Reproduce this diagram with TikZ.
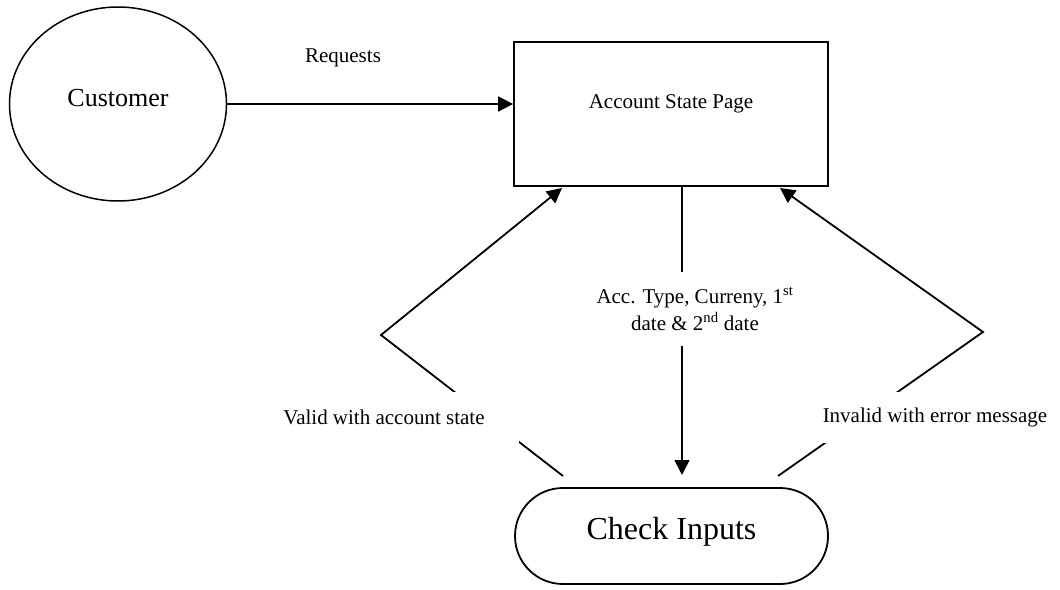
\documentclass[tikz,border=0pt]{standalone}
\usepackage{fontspec}
\setmainfont{Liberation Serif}
\usetikzlibrary{shapes.geometric,arrows.meta}
\begin{document}
\begin{tikzpicture}[x=1pt,y=-1pt,
  line width=1.8pt,
  arr/.style={-{Triangle[length=15pt,width=15pt]}},
  shapebox/.style={draw, line width=1.8pt, inner sep=0pt},
  lbl/.style={font=\fontsize{21}{27}\selectfont},
  gaplbl/.style={lbl, fill=white, inner ysep=0pt, minimum height=51pt}
]
\useasboundingbox (0,0) rectangle (1060,589);

% shapes
\node[shapebox, ellipse, line width=1.5pt, minimum width=217pt, minimum height=194pt,
  label={[font=\fontsize{26}{31}\selectfont, yshift=6pt]center:Customer}] (cust) at (118,104) {};
\node[shapebox, rectangle, minimum width=314pt, minimum height=144pt,
  label={[lbl, yshift=10pt]center:Account State Page}] (page) at (671,114) {};
\node[shapebox, rectangle, rounded corners=47.9pt, minimum width=313pt, minimum height=96pt,
  label={[font=\fontsize{32}{38}\selectfont, yshift=4pt]center:Check Inputs}] (check) at (671.5,536) {};

% free connector ends
\coordinate (vin) at (682,475);
\coordinate (lstart) at (563,476);
\coordinate (lcorner) at (381,335);
\coordinate (ltip) at (562,188);
\coordinate (rstart) at (778,476);
\coordinate (rcorner) at (983,332);
\coordinate (rtip) at (780,188);

% connectors
\draw[arr] (cust.east) -- (cust.east -| page.west);
\draw[arr] (page.south -| vin) -- (vin);
\draw[arr] (lstart) -- (lcorner) -- (ltip);
\draw[arr] (rstart) -- (rcorner) -- (rtip);

% labels
\node[lbl] (req) at (343,58) {Requests};
\node[lbl, fill=white, align=center, inner xsep=2pt, inner ysep=0pt, minimum height=74pt] (acc) at (695,309)
  {Acc. Type, Curreny, 1\textsuperscript{st}\\date \& 2\textsuperscript{nd} date};
\node[gaplbl, inner xsep=34pt] (valid) at (384,417) {Valid with account state};
\node[gaplbl, inner xsep=4pt] (invalid) at (935,417) {Invalid with error message};
\end{tikzpicture}
\end{document}
